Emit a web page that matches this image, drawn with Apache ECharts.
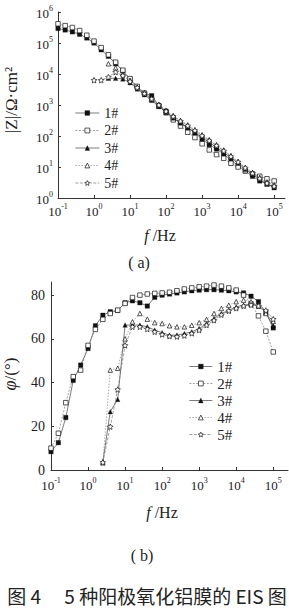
<!DOCTYPE html>
<html><head><meta charset="utf-8">
<script src="https://cdn.jsdelivr.net/npm/echarts@6/dist/echarts.min.js"></script>
<style>html,body{margin:0;padding:0;background:#fff}#c{width:289px;height:608px}</style>
</head><body><div id="c"></div>
<script>
// frequencies (Hz), shared grid
const freq = [0.1,0.158,0.251,0.398,0.631,1,1.58,2.51,3.98,6.31,10,15.8,25.1,39.8,63.1,100,158,251,398,631,1000,1580,2510,3980,6310,1e4,1.58e4,2.51e4,3.98e4,6.31e4,1e5];
const names = ['1#','2#','3#','4#','5#'];
// |Z| (Ω·cm²)
const z1 = [2.95e5,2.63e5,2.29e5,1.91e5,1.45e5,1.0e5,6.03e4,3.72e4,2.14e4,1.26e4,6.61e3,3.8e3,2.4e3,2.0e3,955,631,380,263,182,126,79.4,52.5,38,26.3,16.6,11.2,7.41,5.01,3.55,2.82,2.24];
const z2 = [4.17e5,3.63e5,3.16e5,2.51e5,1.78e5,1.15e5,7.08e4,4.17e4,2.4e4,1.32e4,7.08e3,3.98e3,2.4e3,1.51e3,912,562,331,209,132,89.1,56.2,35.5,25.1,19.1,13.2,10,7.59,6.03,5.01,4.17,3.55];
const z3 = [null,null,null,null,null,null,null,7.24e3,7.24e3,6.92e3,5.25e3,3.31e3,2.14e3,1.41e3,891,575,380,263,186,132,89.1,61.7,42.7,29.5,20,13.2,8.51,5.75,3.98,2.82,2.14];
const z4 = [null,null,null,null,null,null,null,2.14e4,1.58e4,1.0e4,6.31e3,3.8e3,2.51e3,1.66e3,1.05e3,676,457,316,229,158,110,75.9,52.5,35.5,23.4,15.1,9.55,6.61,4.57,3.31,2.63];
const z5 = [null,null,null,null,null,6.31e3,6.31e3,7.94e3,1.15e4,8.91e3,5.75e3,3.63e3,2.34e3,1.58e3,1.0e3,631,427,302,214,151,102,70.8,49,33.1,21.9,14.5,9.33,6.31,4.27,3.02,2.4];
// phase (°)
const ph1 = [8.4,12.5,24,41,48,55.6,66,70.8,72.4,73,76.5,77.4,76.5,75,79,80,80.5,81,81.5,82,82.3,82.5,82.5,82.3,82,81.5,81,79.5,77,72,65];
const ph2 = [10,16.8,30.8,42.7,45.7,57,64.3,68.9,71.6,73.1,76.2,78.9,80,80.5,80.8,81,81.3,82,82.8,83.3,83.8,84.1,84.6,84.1,83.3,82.3,80,76,70.5,63.5,54];
const ph3 = [null,null,null,null,null,null,null,3.8,26.7,32.3,66.3,66.3,66.3,65.5,64,62.8,61.7,61.7,62.4,63.2,64.7,67,69.3,71.6,73,74.6,75.4,75.9,75.4,72,66];
const ph4 = [null,null,null,null,null,null,null,3.3,45.7,46.5,60,67.8,71.6,69,67.4,67,66,65.5,65.5,66.2,67.4,68.9,71.6,73.9,75.4,77,77.7,77,75,71.6,68];
const ph5 = [null,null,null,null,null,null,null,3.5,19.8,36.8,57,65.5,65.5,64.5,63.2,62,61.2,61,61.5,62.5,64,66.3,68.5,71,72.8,74,75,75.5,75,73,69];

const zSets = [z1,z2,z3,z4,z5];
const phSets = [ph1,ph2,ph3,ph4,ph5];

const STAR = 'path://M0,-10L2.9,-4L9.5,-3.1L4.7,1.6L5.9,8.1L0,5L-5.9,8.1L-4.7,1.6L-9.5,-3.1L-2.9,-4Z';
const ORECT = 'path://M-5,-5L5,-5L5,5L-5,5Z';
const OTRI = 'path://M0,-5L5.5,4.5L-5.5,4.5Z';
const symbols = ['rect',ORECT,'triangle',OTRI,STAR];
const hollow = [false,true,false,true,true];
const dashes = ['solid',[2,1.5],'solid',[1.5,1.5],[3,1.5]];
const lineCols = ['#444','#777','#444','#888','#777'];
const serif = "'Liberation Serif','DejaVu Serif',serif";
const ink = '#222';

function pairs(vals){ const out=[]; vals.forEach((v,i)=>{ if(v!=null) out.push([freq[i],v]); }); return out; }
function iStyle(i){ return {color: hollow[i]?'#fff':'#111', borderColor:'#111', borderWidth: hollow[i]?0.7:0.3}; }
function lStyle(i){ return {color:lineCols[i], width:0.7, type:dashes[i]}; }
function mk(i, vals, axisIdx){
  return {
    name: names[i], type:'line', xAxisIndex:axisIdx, yAxisIndex:axisIdx,
    data: pairs(vals), symbol: symbols[i], symbolSize: i===4?5.5:4.5, showSymbol:true,
    lineStyle: lStyle(i), itemStyle: iStyle(i),
    emphasis:{disabled:true}, animation:false, z: 3
  };
}
function powLabel(v){
  const e = Math.log10(v); const r = Math.round(e);
  if (Math.abs(e-r) > 0.01) return '';
  return '{b|10}{s|' + r + '}';
}
const rich = {
  b:{fontSize:13, fontFamily:serif, color:ink, lineHeight:16, verticalAlign:'bottom'},
  s:{fontSize:8, fontFamily:serif, color:ink, lineHeight:9, verticalAlign:'top'}
};
const axLine = {show:true, onZero:false, lineStyle:{color:'#333', width:1}};
const axTick = {show:true, inside:true, length:3, lineStyle:{color:'#333', width:1}};
const legendData = names.map((n,i)=>({name:n, itemStyle:iStyle(i), lineStyle:lStyle(i)}));

const option = {
  backgroundColor:'#fff',
  animation:false,
  grid:[
    {left:58, top:12, right:4, height:186, outerBoundsMode:'none', containLabel:false},
    {left:51, top:282, right:1, height:188, outerBoundsMode:'none', containLabel:false}
  ],
  xAxis:[
    {type:'log', logBase:10, gridIndex:0, min:0.1, max:2e5, axisLine:axLine, axisTick:axTick, splitLine:{show:false}, minorTick:{show:false},
     axisLabel:{formatter:powLabel, rich:rich, margin:4, showMaxLabel:false, showMinLabel:true, hideOverlap:false}},
    {type:'log', logBase:10, gridIndex:1, min:0.1, max:2.5e5, axisLine:axLine, axisTick:axTick, splitLine:{show:false},
     axisLabel:{formatter:powLabel, rich:rich, margin:6, showMaxLabel:false, showMinLabel:true, hideOverlap:false}}
  ],
  yAxis:[
    {type:'log', logBase:10, gridIndex:0, min:1, max:1e6, axisLine:axLine, axisTick:axTick, splitLine:{show:false},
     axisLabel:{formatter:powLabel, rich:rich, margin:5, showMinLabel:true, showMaxLabel:true, hideOverlap:false}},
    {type:'value', gridIndex:1, min:0, max:86, interval:20, axisLine:axLine, axisTick:axTick, splitLine:{show:false},
     axisLabel:{fontSize:14, fontFamily:serif, color:ink, margin:6, showMaxLabel:false}}
  ],
  legend:[
    {data:legendData, orient:'vertical', left:70, top:101, itemWidth:24, itemHeight:6, itemGap:3.5, selectedMode:false,
     textStyle:{fontFamily:serif, fontSize:14, color:ink, lineHeight:14}},
    {data:legendData, orient:'vertical', left:184, top:354, itemWidth:23, itemHeight:6, itemGap:2, selectedMode:false,
     textStyle:{fontFamily:serif, fontSize:15, color:ink, lineHeight:14}}
  ],
  graphic:[
    {type:'text', x:11, y:100, rotation:Math.PI/2, style:{text:'|Z|/Ω·cm²', font:'17px '+serif, fill:ink, align:'center', verticalAlign:'middle'}},
    {type:'text', x:10, y:374, rotation:Math.PI/2, style:{text:'{i|φ}/(°)', font:'17px '+serif, fill:ink, align:'center', verticalAlign:'middle', rich:{i:{fontStyle:'italic', fontSize:18, fontFamily:serif, fill:ink}}}},
    {type:'text', x:160, y:235, style:{text:'{i|f} /Hz', font:'16px '+serif, fill:ink, align:'center', verticalAlign:'middle', rich:{i:{fontStyle:'italic', fontSize:16, fontFamily:serif, fill:ink}}}},
    {type:'text', x:139, y:262, style:{text:'( a)', font:'16px '+serif, fill:ink, align:'center', verticalAlign:'middle'}},
    {type:'text', x:162, y:512, style:{text:'{i|f} /Hz', font:'16px '+serif, fill:ink, align:'center', verticalAlign:'middle', rich:{i:{fontStyle:'italic', fontSize:16, fontFamily:serif, fill:ink}}}},
    {type:'text', x:142, y:555, style:{text:'( b)', font:'16px '+serif, fill:ink, align:'center', verticalAlign:'middle'}},
    {type:'text', x:147, y:595, style:{text:'图 4　 5 种阳极氧化铝膜的 EIS 图', font:"19px 'Noto Sans CJK SC',sans-serif", fill:ink, align:'center', verticalAlign:'middle'}}
  ],
  series: [
    ...zSets.map((v,i)=>mk(i,v,0)),
    ...phSets.map((v,i)=>mk(i,v,1))
  ]
};
const chart = echarts.init(document.getElementById('c'), null, {renderer:'svg'});
chart.setOption(option);
</script>
</body></html>
